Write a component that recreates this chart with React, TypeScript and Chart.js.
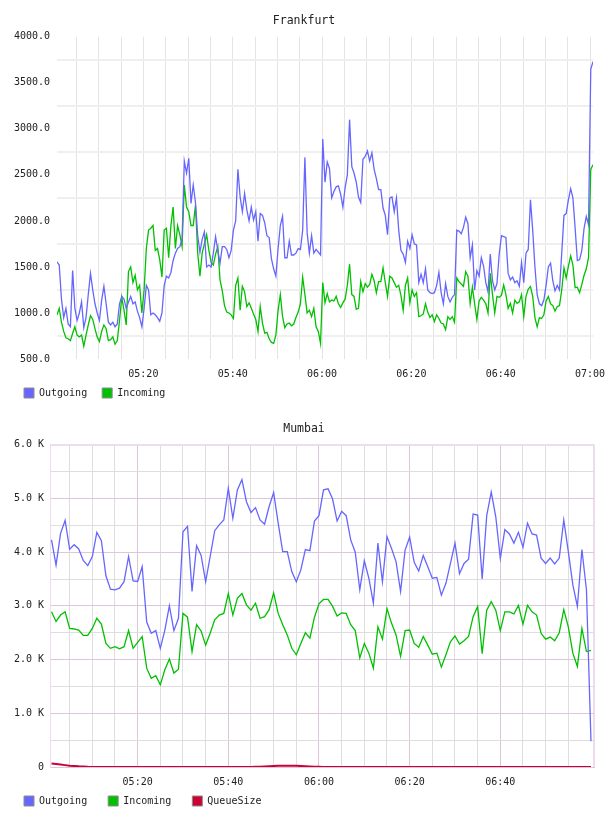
import { useEffect, useRef } from 'react';
import { Chart, registerables } from 'chart.js';

Chart.register(...registerables);

const FONT_FAMILY = "'DejaVu Sans Mono', monospace";
const TEXT_COLOR = '#222222';

const OUTGOING_COLOR = '#6666ff';
const INCOMING_COLOR = '#00c000';
const QUEUE_COLOR = '#cc0033';
const SWATCH_BORDER = '#8c8c8c';

// Time axis shared by both panels, in seconds after 05:00
const AXIS_START = 40;
const AXIS_END = 7240;
const GRID_STEP = 300;
const TIME_TICKS = [1200, 2400, 3600, 4800, 6000, 7200];
const TIME_LABELS = ['05:20', '05:40', '06:00', '06:20', '06:40', '07:00'];

// Frankfurt: one sample every 30 s from 05:00:40
const FRA_START = 40;
const FRA_STEP = 30;
const FRA_OUTGOING = [
  1554, 1520, 1150, 950, 1050, 880, 850, 1460, 1050, 920,
  1000, 1120, 840, 950, 1200, 1430, 1250, 1100, 1000, 920,
  1140, 1290, 1100, 900, 870, 900, 850, 880, 1100, 1180,
  1150, 1050, 1120, 1180, 1100, 1120, 1020, 950, 850, 1050,
  1300, 1250, 980, 1000, 980, 950, 910, 1000, 1300, 1400,
  1380, 1440, 1570, 1650, 1700, 1720, 1800, 2650, 2520, 2680,
  2190, 2390, 2200, 1840, 1660, 1800, 1880, 1500, 1520, 1500,
  1650, 1830, 1680, 1540, 1720, 1720, 1690, 1600, 1680, 1900,
  2000, 2560, 2260, 2100, 2300, 2120, 2000, 2150, 2010, 2100,
  1780, 2080, 2060, 1980, 1840, 1820, 1590, 1480, 1400, 1700,
  1950, 2050, 1600, 1600, 1780, 1630, 1630, 1650, 1700, 1690,
  1900, 2690, 1870, 1650, 1840, 1650, 1690, 1660, 1630, 2890,
  2420, 2640, 2570, 2250, 2320, 2370, 2380, 2290, 2150, 2360,
  2500, 3100, 2590, 2520, 2420, 2260, 2200, 2670, 2700, 2760,
  2650, 2740, 2560, 2460, 2340, 2340, 2140, 2060, 1850, 2250,
  2260, 2100, 2250, 1900, 1680, 1640, 1550, 1780, 1700, 1850,
  1750, 1740, 1330, 1420, 1330, 1480, 1250, 1220, 1210, 1220,
  1300, 1440, 1220, 1100, 1320, 1180, 1120, 1170, 1200, 1900,
  1890, 1860, 1930, 2040, 1970, 1600, 1740, 1250, 1460, 1400,
  1600, 1510, 1330, 1230, 1640, 1350, 1250, 1320, 1640, 1840,
  1830, 1820, 1430, 1360, 1390, 1330, 1350, 1290, 1550, 1330,
  1650, 1690, 2230, 1900, 1500, 1200, 1100, 1080, 1140, 1300,
  1500, 1540, 1350, 1240, 1300, 1250, 1650, 2060, 2080, 2230,
  2350, 2250, 1920, 1570, 1580, 1680, 1920, 2050, 1960, 3650,
  3730,
];
const FRA_INCOMING = [
  980, 1050, 900, 800, 730, 720, 700, 780, 850, 760,
  740, 760, 640, 760, 870, 970, 930, 830, 740, 690,
  800, 870, 830, 700, 710, 740, 660, 700, 920, 1170,
  1030, 870, 1450, 1500, 1330, 1410, 1250, 1300, 1000, 1250,
  1700, 1900, 1920, 1950, 1680, 1700, 1580, 1390, 1900, 1920,
  1600, 1950, 2150, 1700, 1950, 1850, 1720, 2390, 2150, 2100,
  1950, 1950, 2170, 1650, 1400, 1650, 1750, 1850, 1680, 1550,
  1520, 1640, 1720, 1360, 1240, 1080, 1010, 1000, 980, 940,
  1300, 1380, 1030, 1290, 1230, 1070, 1110, 1050, 990, 930,
  800, 1070, 890, 780, 790, 720, 680, 670, 760, 1030,
  1200, 960, 840, 880, 890, 860, 880, 950, 1010, 1100,
  1390, 1200, 1000, 1030, 960, 1050, 850, 800, 670, 1330,
  1110, 1210, 1120, 1140, 1130, 1180, 1100, 1060, 1110, 1150,
  1300, 1530, 1200, 1180, 1040, 1050, 1340, 1230, 1320, 1280,
  1310, 1420, 1350, 1220, 1340, 1340, 1490, 1330, 1180, 1400,
  1380, 1330, 1280, 1300, 1190, 1030, 1300, 1380, 1110, 1250,
  1180, 1220, 960, 970, 990, 1100, 1010, 950, 980, 905,
  980, 940, 890, 880, 820, 960, 930, 960, 900, 1380,
  1340, 1315, 1290, 1450, 1400, 1100, 1280, 1100, 930, 1130,
  1170, 1140, 1100, 1000, 1430, 1200, 1000, 1180, 1170, 1190,
  1305, 1200, 1050, 1105, 1000, 1140, 1105, 1120, 1200, 960,
  1180, 1260, 1286, 1180, 950, 850, 950, 940, 980, 1130,
  1178, 1100, 1080, 1020, 1070, 1080, 1250, 1490, 1380, 1510,
  1620, 1520, 1275, 1280, 1220, 1310, 1410, 1480, 1600, 2560,
  2610,
];
const FRA_Y_TICKS = [500, 1000, 1500, 2000, 2500, 3000, 3500, 4000];
const FRA_Y_LABELS = ['500.0', '1000.0', '1500.0', '2000.0', '2500.0', '3000.0', '3500.0', '4000.0'];

// Mumbai: one sample every minute from 05:01
const MUM_START = 60;
const MUM_STEP = 60;
const MUM_OUTGOING = [
  4230, 3760, 4350, 4590, 4055, 4140, 4060, 3845, 3750, 3920,
  4370, 4215, 3560, 3310, 3300, 3330, 3450, 3920, 3465, 3455,
  3730, 2700, 2490, 2540, 2210, 2550, 3000, 2540, 2770, 4380,
  4480, 3270, 4120, 3940, 3450, 3920, 4400, 4510, 4600, 5190,
  4630, 5160, 5350, 4940, 4740, 4830, 4600, 4520, 4850, 5110,
  4540, 4010, 4010, 3640, 3450, 3670, 4050, 4030, 4580, 4680,
  5160, 5180, 4990, 4580, 4760, 4680, 4230, 4000, 3300, 3840,
  3515, 3050, 4170, 3450, 4290, 4070, 3825, 3270, 4040, 4280,
  3810, 3650, 3940, 3730, 3515, 3530, 3200, 3420, 3790, 4170,
  3600, 3790, 3870, 4710, 4690, 3500, 4680, 5120, 4660, 3880,
  4420, 4340, 4170, 4370, 4090, 4540, 4340, 4320, 3890, 3790,
  3890, 3780, 3890, 4600, 4010, 3390, 2990, 4050, 3300, 480,
];
const MUM_INCOMING = [
  2890, 2710, 2830, 2890, 2580, 2570, 2550, 2450, 2450, 2580,
  2770, 2660, 2300, 2210, 2240, 2200, 2240, 2540, 2210, 2320,
  2430, 1840, 1650, 1700, 1530, 1810, 2010, 1750, 1820, 2860,
  2790, 2150, 2650, 2530, 2270, 2490, 2740, 2830, 2860, 3230,
  2830, 3140, 3230, 3020, 2920, 3050, 2770, 2800, 2930, 3240,
  2860, 2650, 2460, 2210, 2090, 2300, 2500, 2400, 2790, 3040,
  3120, 3120, 2990, 2810, 2870, 2860, 2650, 2540, 2030, 2300,
  2120, 1840, 2610, 2380, 2950, 2680, 2460, 2060, 2540, 2550,
  2300, 2230, 2430, 2270, 2100, 2120, 1860, 2090, 2330, 2440,
  2290, 2350, 2430, 2800, 2990, 2110, 2920, 3080, 2920, 2540,
  2890, 2890, 2850, 3010, 2660, 3010, 2890, 2830, 2490, 2380,
  2420, 2350, 2500, 2930, 2610, 2120, 1870, 2580, 2150, 2170,
];
const MUM_QUEUE = [
  65, 55, 45, 35, 25, 18, 12, 8, 4, 2,
  0, 0, 0, 0, 0, 0, 0, 0, 0, 0,
  0, 0, 0, 0, 0, 0, 0, 0, 0, 0,
  0, 0, 0, 0, 0, 0, 0, 0, 0, 0,
  0, 0, 0, 0, 0, 3, 6, 10, 14, 18,
  22, 25, 25, 24, 22, 18, 14, 10, 6, 3,
  0, 0, 0, 0, 0, 0, 0, 0, 0, 0,
  0, 0, 0, 0, 0, 0, 0, 0, 0, 0,
  0, 0, 0, 0, 0, 0, 0, 0, 0, 0,
  0, 0, 0, 0, 0, 0, 0, 0, 0, 0,
  0, 0, 0, 0, 0, 0, 0, 0, 0, 0,
  0, 0, 0, 0, 0, 0, 0, 0, 0, 0,
];
const MUM_Y_TICKS = [0, 1000, 2000, 3000, 4000, 5000, 6000];
const MUM_Y_LABELS = ['0', '1.0 K', '2.0 K', '3.0 K', '4.0 K', '5.0 K', '6.0 K'];

interface SeriesSpec {
  label: string;
  color: string;
  width: number;
  values: number[];
}

interface GridStyle {
  minor: string;
  major: string;
  frame: string;
}

interface PanelSpec {
  title: string;
  start: number;
  step: number;
  series: SeriesSpec[];
  yTicks: number[];
  yLabels: string[];
  yGridStep: number;
  lastTimeLabel: number;
  sidePad: number;
  rightPad: number;
  yAxisWidth: number;
  yLabelGap: number;
  legendGap: number;
  framed: boolean;
  grid: GridStyle;
}

const FRANKFURT: PanelSpec = {
  title: 'Frankfurt',
  start: FRA_START,
  step: FRA_STEP,
  series: [
    { label: 'Outgoing', color: OUTGOING_COLOR, width: 1.3, values: FRA_OUTGOING },
    { label: 'Incoming', color: INCOMING_COLOR, width: 1.3, values: FRA_INCOMING },
  ],
  yTicks: FRA_Y_TICKS,
  yLabels: FRA_Y_LABELS,
  yGridStep: 250,
  lastTimeLabel: 7200,
  sidePad: 9,
  rightPad: 15,
  yAxisWidth: 48,
  yLabelGap: 7,
  legendGap: 15,
  framed: false,
  grid: { minor: '#efefef', major: 'rgba(0,0,0,0)', frame: 'rgba(0,0,0,0)' },
};

const MUMBAI: PanelSpec = {
  title: 'Mumbai',
  start: MUM_START,
  step: MUM_STEP,
  series: [
    { label: 'Outgoing', color: OUTGOING_COLOR, width: 1.3, values: MUM_OUTGOING },
    { label: 'Incoming', color: INCOMING_COLOR, width: 1.3, values: MUM_INCOMING },
    { label: 'QueueSize', color: QUEUE_COLOR, width: 2, values: MUM_QUEUE },
  ],
  yTicks: MUM_Y_TICKS,
  yLabels: MUM_Y_LABELS,
  yGridStep: 500,
  lastTimeLabel: 6000,
  sidePad: 3,
  rightPad: 14,
  yAxisWidth: 47,
  yLabelGap: 6,
  legendGap: 21,
  framed: true,
  grid: { minor: '#dedede', major: '#dcc6dc', frame: '#eedcee' },
};

// Distance from the plot's lower edge to the centre of the time labels
const TIME_LABEL_OFFSET = 15;
const TIME_LABEL_LINE = 12;

function toPoints(start: number, step: number, values: number[]) {
  return values.map((y, i) => ({ x: start + i * step, y }));
}

function buildConfig(spec: PanelSpec): any {
  const yMin = spec.yTicks[0];
  const yMax = spec.yTicks[spec.yTicks.length - 1];
  const xAxisHeight = 29 - spec.legendGap;
  const tickFont = { family: FONT_FAMILY, size: 10, lineHeight: 1.2 };
  const yMajorStep = spec.yTicks[1] - spec.yTicks[0];

  return {
    type: 'line',
    data: {
      datasets: spec.series.map((s) => ({
        label: s.label,
        data: toPoints(spec.start, spec.step, s.values),
        borderColor: s.color,
        backgroundColor: s.color,
        borderWidth: s.width,
        pointRadius: 0,
        pointHoverRadius: 0,
        tension: 0,
        fill: false,
      })),
    },
    options: {
      responsive: false,
      animation: false,
      events: [],
      layout: { padding: { left: spec.sidePad, right: spec.sidePad, top: 0, bottom: 0 } },
      plugins: {
        tooltip: { enabled: false },
        title: {
          display: true,
          text: spec.title,
          color: TEXT_COLOR,
          font: { family: FONT_FAMILY, size: 11.5, weight: 'normal', lineHeight: 1.2 },
          padding: { top: 14, bottom: 9 },
        },
        legend: {
          display: true,
          position: 'bottom',
          align: 'start',
          labels: {
            boxWidth: 10,
            boxHeight: 10,
            padding: spec.legendGap,
            color: TEXT_COLOR,
            font: tickFont,
            generateLabels: (chart: any) =>
              chart.data.datasets.map((ds: any, i: number) => ({
                text: ds.label,
                fillStyle: ds.borderColor,
                strokeStyle: SWATCH_BORDER,
                lineWidth: 1,
                hidden: false,
                datasetIndex: i,
                fontColor: TEXT_COLOR,
              })),
          },
        },
      },
      scales: {
        x: {
          type: 'linear',
          min: AXIS_START,
          max: AXIS_END,
          bounds: 'data',
          afterBuildTicks: (scale: any) => {
            const ticks: { value: number }[] = [];
            const last = spec.framed ? spec.lastTimeLabel + 900 : AXIS_END;
            for (let v = GRID_STEP; v <= last; v += GRID_STEP) ticks.push({ value: v });
            if (spec.framed) ticks.push({ value: AXIS_END });
            scale.ticks = ticks;
          },
          afterFit: (scale: any) => {
            scale.height = xAxisHeight;
            scale.paddingLeft = 0;
            scale.paddingRight = spec.rightPad;
          },
          grid: {
            drawTicks: false,
            color: (ctx: any) => {
              const v = ctx.tick ? ctx.tick.value : 0;
              if (!spec.framed) return '#e4e4e4';
              if (v === AXIS_END) return spec.grid.frame;
              return v % 1200 === 0 ? spec.grid.major : spec.grid.minor;
            },
            lineWidth: (ctx: any) => (spec.framed && ctx.tick && ctx.tick.value === AXIS_END ? 2 : 1),
          },
          border: { display: spec.framed, color: spec.grid.major, width: 1 },
          ticks: {
            autoSkip: false,
            maxRotation: 0,
            minRotation: 0,
            // mirrored labels are not clipped to the axis box, so they can sit
            // lower than the compact axis height leaves room for
            mirror: true,
            padding: -(TIME_LABEL_OFFSET + TIME_LABEL_LINE / 2),
            color: TEXT_COLOR,
            font: tickFont,
            callback: (value: number) => {
              const i = TIME_TICKS.indexOf(value);
              return i >= 0 && value <= spec.lastTimeLabel ? TIME_LABELS[i] : '';
            },
          },
        },
        y: {
          type: 'linear',
          min: yMin,
          max: yMax,
          bounds: 'data',
          afterBuildTicks: (scale: any) => {
            const ticks: { value: number }[] = [];
            for (let v = yMin; v <= yMax; v += spec.yGridStep) ticks.push({ value: v });
            scale.ticks = ticks;
          },
          afterFit: (scale: any) => {
            scale.width = spec.yAxisWidth;
          },
          grid: {
            drawTicks: false,
            color: (ctx: any) => {
              const v = ctx.tick ? ctx.tick.value : 0;
              if (spec.framed && v === yMax) return spec.grid.frame;
              return (v - yMin) % yMajorStep === 0 ? spec.grid.major : spec.grid.minor;
            },
            lineWidth: (ctx: any) => {
              const v = ctx.tick ? ctx.tick.value : 0;
              if (!spec.framed) return 2;
              return v === yMax ? 2 : 1;
            },
          },
          border: { display: spec.framed, color: spec.grid.frame, width: 1 },
          ticks: {
            autoSkip: false,
            padding: spec.yLabelGap,
            color: TEXT_COLOR,
            font: tickFont,
            callback: (value: number) => {
              const i = spec.yTicks.indexOf(value);
              return i >= 0 ? spec.yLabels[i] : '';
            },
          },
        },
      },
    },
  };
}

function Panel({ spec }: { spec: PanelSpec }) {
  const ref = useRef<HTMLCanvasElement>(null);
  useEffect(() => {
    if (!ref.current) return;
    const chart = new Chart(ref.current, buildConfig(spec));
    return () => chart.destroy();
  }, [spec]);
  return (
    <canvas
      ref={ref}
      width={608}
      height={408}
      style={{ display: 'block', width: 608, height: 408 }}
    />
  );
}

export default function App() {
  return (
    <div
      style={{
        position: 'absolute',
        left: 0,
        top: 0,
        width: 608,
        height: 816,
        background: '#ffffff',
      }}
    >
      <Panel spec={FRANKFURT} />
      <Panel spec={MUMBAI} />
    </div>
  );
}
